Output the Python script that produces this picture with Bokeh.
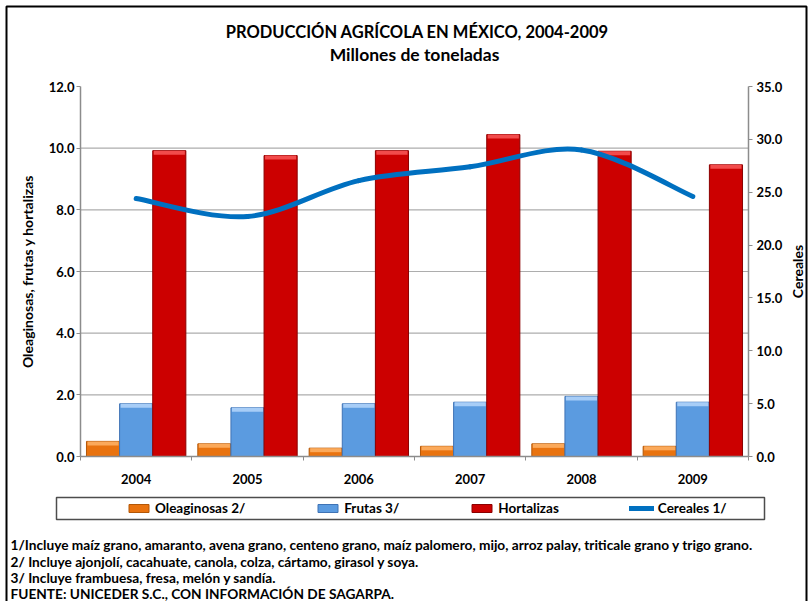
import math
from bokeh.plotting import figure
from bokeh.models import (Range1d, LinearAxis, FixedTicker, PrintfTickFormatter,
                          ColumnDataSource, Legend, LegendItem, Label, BoxAnnotation)
from bokeh.transform import dodge
from bokeh.embed import file_html
from bokeh.resources import INLINE

# ---------------- data ----------------
years = ["2004", "2005", "2006", "2007", "2008", "2009"]
oleaginosas = [0.49, 0.41, 0.27, 0.33, 0.41, 0.33]
frutas = [1.71, 1.58, 1.71, 1.76, 1.95, 1.76]
hortalizas = [9.92, 9.76, 9.92, 10.44, 9.90, 9.46]
cereales = [24.4, 22.7, 26.1, 27.4, 29.0, 24.6]
left_ticks = [0, 2, 4, 6, 8, 10, 12]
right_ticks = [0, 5, 10, 15, 20, 25, 30, 35]
series_names = ["Oleaginosas 2/", "Frutas 3/", "Hortalizas", "Cereales 1/"]
title_text = "PRODUCCIÓN AGRÍCOLA EN MÉXICO, 2004-2009"
subtitle_text = "Millones de toneladas"
left_title = "Oleaginosas, frutas y hortalizas"
right_title = "Cereales"
notes = [
    "1/Incluye maíz grano, amaranto, avena grano, centeno grano, maíz palomero, mijo, arroz palay, triticale grano y trigo grano.",
    "2/ Incluye ajonjolí, cacahuate, canola, colza, cártamo, girasol y soya.",
    "3/ Incluye frambuesa, fresa, melón y sandía.",
    "FUENTE: UNICEDER S.C., CON INFORMACIÓN DE SAGARPA.",
]

FONT = "Lato"
CW, CH = 811, 601                     # canvas
PL, PR, PT, PB = 80, 748, 86, 456     # plot area in canvas pixels
W = 0.2975                            # bar width (category units)
BEVEL = 0.13                          # top highlight strip (left-axis units)

pos = list(range(1, len(years) + 1))
xlo, xhi = pos[0] - 0.5, pos[-1] + 0.5
ylo, yhi = left_ticks[0], left_ticks[-1]
rlo, rhi = right_ticks[0], right_ticks[-1]

# the frame fills the whole canvas; ranges are widened so the plot area sits at PL..PR / PT..PB
sx = (PR - PL) / (xhi - xlo)
sy = (PB - PT) / (yhi - ylo)
sr = (PB - PT) / (rhi - rlo)
X0, X1 = xlo - PL / sx, xhi + (CW - PR) / sx
Y0, Y1 = ylo - (CH - PB) / sy, yhi + PT / sy
R0, R1 = rlo - (CH - PB) / sr, rhi + PT / sr


def px(x):
    return X0 + x / sx


def py(y):
    return Y1 - y / sy


p = figure(width=CW, height=CH, x_range=Range1d(X0, X1), y_range=Range1d(Y0, Y1),
           output_backend="svg", toolbar_location=None, min_border=0,
           x_axis_location=None, y_axis_location=None)
p.outline_line_color = None
p.background_fill_color = "white"
p.border_fill_color = "white"
p.xgrid.visible = False
p.ygrid.visible = False
p.extra_y_ranges = {"cer": Range1d(R0, R1)}

AX = "#8C8C8C"


def style_axis(a, size="13px"):
    a.major_label_text_font = FONT
    a.major_label_text_font_style = "bold"
    a.major_label_text_font_size = size
    a.major_label_text_color = "black"
    a.axis_line_color = AX
    a.axis_line_width = 1.5
    a.major_tick_line_color = AX
    a.major_tick_in = 0
    a.major_tick_out = 4
    a.minor_tick_line_color = None


# ---------------- grid (horizontal lines over the plot area) ----------------
gsrc = ColumnDataSource(dict(y=left_ticks[1:-1], x0=[xlo] * 5, x1=[xhi] * 5))
p.segment(x0="x0", x1="x1", y0="y", y1="y", source=gsrc,
          line_color="#ADADAD", line_width=1.2)

# ---------------- bars ----------------
src = ColumnDataSource(dict(
    x=pos,
    ole=oleaginosas, fru=frutas, hor=hortalizas,
    ole_b=[v - BEVEL for v in oleaginosas],
    fru_b=[v - BEVEL for v in frutas],
    hor_b=[v - BEVEL for v in hortalizas],
))
r_ole = p.vbar(x=dodge("x", -W), top="ole", bottom=0, width=W, source=src,
               fill_color="#E9730F", line_color="#B35707", line_width=1)
p.vbar(x=dodge("x", -W), top="ole", bottom="ole_b", width=W * 0.94, source=src,
       fill_color="#FBA95A", line_color=None)
r_fru = p.vbar(x=dodge("x", 0), top="fru", bottom=0, width=W, source=src,
               fill_color="#5B9BE0", line_color="#3F73B5", line_width=1)
p.vbar(x=dodge("x", 0), top="fru", bottom="fru_b", width=W * 0.94, source=src,
       fill_color="#A7CDF7", line_color=None)
r_hor = p.vbar(x=dodge("x", W), top="hor", bottom=0, width=W, source=src,
               fill_color="#CC0000", line_color="#8C0000", line_width=1)
p.vbar(x=dodge("x", W), top="hor", bottom="hor_b", width=W * 0.94, source=src,
       fill_color="#F24B4B", line_color=None)

# ---------------- axes (fixed at the plot-area edges) ----------------
xa = LinearAxis(fixed_location=ylo, bounds=(xlo, xhi),
                ticker=FixedTicker(ticks=pos, minor_ticks=[x - 0.5 for x in pos] + [xhi]))
style_axis(xa)
xa.major_label_overrides = {x: y for x, y in zip(pos, years)}
xa.major_tick_line_color = None
xa.major_tick_out = 0
xa.minor_tick_out = 4
xa.minor_tick_in = 0
xa.minor_tick_line_color = AX
xa.major_label_standoff = 13
p.add_layout(xa, "below")

ya = LinearAxis(fixed_location=xlo, bounds=(ylo, yhi), ticker=FixedTicker(ticks=left_ticks),
                formatter=PrintfTickFormatter(format="%.1f"))
style_axis(ya)
ya.major_label_standoff = 2
ya.axis_label = left_title
ya.axis_label_text_font = FONT
ya.axis_label_text_font_style = "bold"
ya.axis_label_text_font_size = "14px"
ya.axis_label_text_color = "black"
ya.axis_label_standoff = 10
p.add_layout(ya, "left")

ra = LinearAxis(y_range_name="cer", fixed_location=xhi, bounds=(rlo, rhi),
                ticker=FixedTicker(ticks=right_ticks),
                formatter=PrintfTickFormatter(format="%.1f"))
style_axis(ra)
ra.major_label_standoff = 4
p.add_layout(ra, "right")

# ---------------- smoothed cereal line ----------------
n = len(cereales)
bz = dict(x0=[], y0=[], x1=[], y1=[], cx0=[], cy0=[], cx1=[], cy1=[])
for i in range(n - 1):
    xm, ym = (pos[i - 1], cereales[i - 1]) if i > 0 else (pos[i], cereales[i])
    xp, yp = (pos[i + 2], cereales[i + 2]) if i + 2 < n else (pos[i + 1], cereales[i + 1])
    bz["x0"].append(pos[i]); bz["y0"].append(cereales[i])
    bz["x1"].append(pos[i + 1]); bz["y1"].append(cereales[i + 1])
    bz["cx0"].append(pos[i] + (pos[i + 1] - xm) / 6)
    bz["cy0"].append(cereales[i] + (cereales[i + 1] - ym) / 6)
    bz["cx1"].append(pos[i + 1] - (xp - pos[i]) / 6)
    bz["cy1"].append(cereales[i + 1] - (yp - cereales[i]) / 6)
r_cer = p.bezier(x0="x0", y0="y0", x1="x1", y1="y1", cx0="cx0", cy0="cy0",
                 cx1="cx1", cy1="cy1", source=ColumnDataSource(bz),
                 y_range_name="cer", line_color="#0070C0", line_width=5,
                 line_cap="round")

# ---------------- legend ----------------
legend = Legend(items=[LegendItem(label=series_names[0], renderers=[r_ole]),
                       LegendItem(label=series_names[1], renderers=[r_fru]),
                       LegendItem(label=series_names[2], renderers=[r_hor]),
                       LegendItem(label=series_names[3], renderers=[r_cer])],
                orientation="horizontal", location=(126, 85),
                padding=0, margin=0, spacing=70, label_standoff=4,
                glyph_width=25, glyph_height=10, label_height=10,
                label_text_font=FONT, label_text_font_style="bold",
                label_text_font_size="13.5px", label_text_color="black",
                border_line_color=None, background_fill_alpha=0)
p.add_layout(legend)

p.add_layout(BoxAnnotation(left=px(56), right=px(764), top=py(497), bottom=py(519),
                           fill_color=None, fill_alpha=0, line_dash="solid",
                           line_color="#4D4D4D", line_width=1.5, line_alpha=1))
p.add_layout(BoxAnnotation(left=px(6), right=px(806), top=py(6), bottom=py(640),
                           fill_color=None, fill_alpha=0, line_dash="solid",
                           line_color="black", line_width=2, line_alpha=1))


# ---------------- texts ----------------
def lab(text, x, y, size, align="left", angle=0.0):
    p.add_layout(Label(x=px(x), y=py(y), text=text,
                       text_font=FONT, text_font_style="bold", text_font_size=size,
                       text_color="black", text_align=align, text_baseline="middle",
                       angle=angle))


lab(title_text, 417, 31, "16.5px", "center")
lab(subtitle_text, 414, 54, "17.5px", "center")
lab(right_title, 797, 271, "14px", "center", math.pi / 2)
for t, yy in zip(notes, [544, 561, 577, 593]):
    lab(t, 10, yy, "13.7px")

open("out.html", "w").write(file_html(p, INLINE))
